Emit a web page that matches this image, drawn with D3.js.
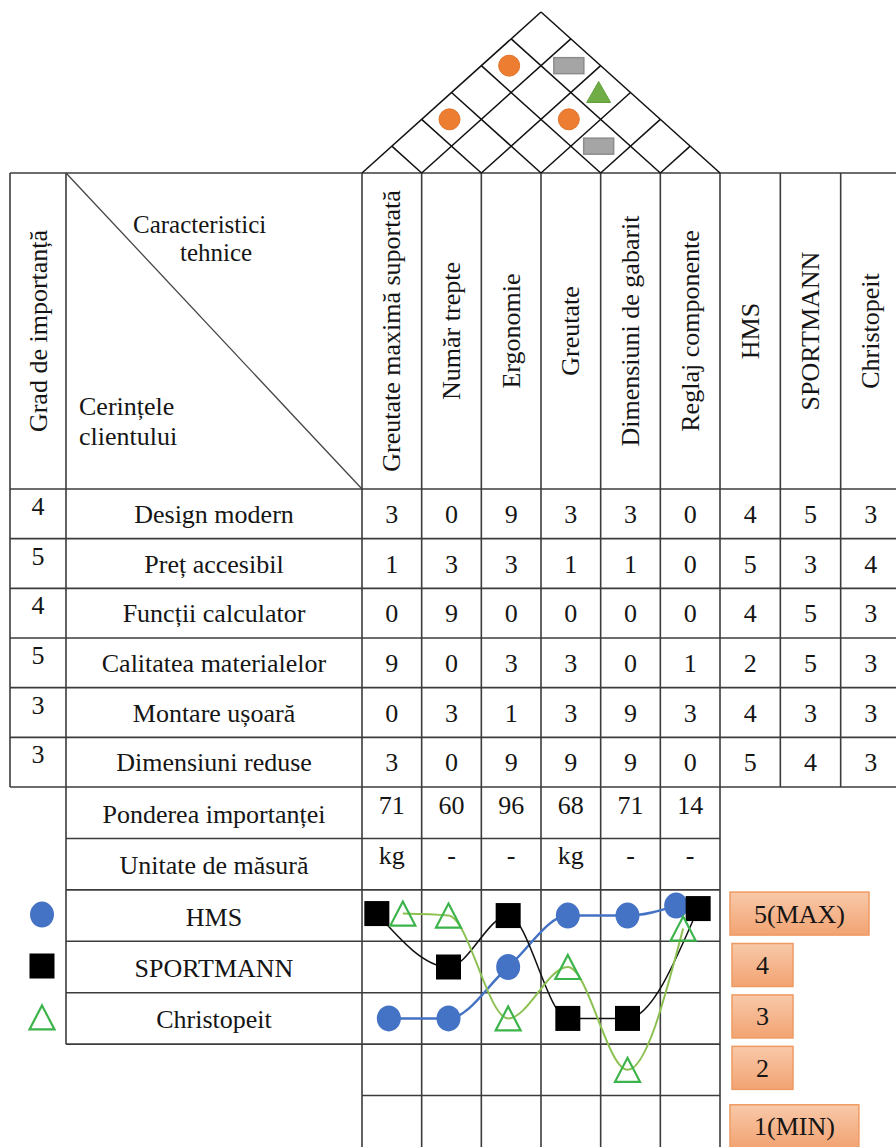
<!DOCTYPE html>
<html><head><meta charset="utf-8">
<script src="https://cdn.jsdelivr.net/npm/d3@7"></script>
<style>
body{margin:0;background:#fff}
svg text{font-family:"Liberation Serif","Times New Roman",serif;fill:#151515}
</style>
</head><body><svg id="c" width="896" height="1147"></svg>
<script>
// ---------------- DATA ----------------
const techChars = ["Greutate maximă suportată","Număr trepte","Ergonomie","Greutate","Dimensiuni de gabarit","Reglaj componente"];
const competitors = ["HMS","SPORTMANN","Christopeit"];
const requirements = ["Design modern","Preț accesibil","Funcții calculator","Calitatea materialelor","Montare ușoară","Dimensiuni reduse"];
const importance = [4,5,4,5,3,3];
const relationships = [
  [3,0,9,3,3,0],
  [1,3,3,1,1,0],
  [0,9,0,0,0,0],
  [9,0,3,3,0,1],
  [0,3,1,3,9,3],
  [3,0,9,9,9,0]
];
const customerRatings = [[4,5,3],[5,3,4],[4,5,3],[2,5,3],[4,3,3],[5,4,3]];
const weights = [71,60,96,68,71,14];
const units = ["kg","-","-","kg","-","-"];
const hmsScores = [3,3,4,5,5,5];
const sportmannScores = [5,4,5,3,3,5];
const christopeitScores = [5,5,3,4,2,5];
const levels = [5,4,3,2,1];
const levelLabels = ["5(MAX)","4","3","2","1(MIN)"];
const bottomRows = ["Ponderea importanței","Unitate de măsură","HMS","SPORTMANN","Christopeit","",""];
const roofCorrelations = [
  {a:0,b:2,type:"circle"},
  {a:2,b:4,type:"circle"},
  {a:0,b:4,type:"circle"},
  {a:1,b:5,type:"rect"},
  {a:2,b:5,type:"triangle"},
  {a:3,b:4,type:"rect"}
];

// ---------------- LAYOUT ----------------
const svg = d3.select("#c");
const FS = 26;
const LINE = "#3c3c3c", LW = 1.6;
const xL0 = 10, xL1 = 66, xT0 = 362, xT1 = 720, xC1 = 901;
const yTop = 173, yHead = 489, yData1 = 787, yEnd = 1147, roofApex = 12;

const xTech = d3.scaleBand().domain(d3.range(techChars.length)).range([xT0, xT1]);
const xComp = d3.scaleBand().domain(d3.range(competitors.length)).range([xT1, xC1]);
const yData = d3.scaleBand().domain(d3.range(requirements.length)).range([yHead, yData1]);
const yBot = d3.scaleBand().domain(d3.range(bottomRows.length)).range([yData1, yEnd]);
const yLevel = d3.scaleBand().domain(levels).range([yBot(2), yEnd]);
const bw = xTech.bandwidth();
const cx = i => xTech(i) + bw/2;

// gradient for level boxes
const defs = svg.append("defs");
const g1 = defs.append("linearGradient").attr("id","og").attr("x1",0).attr("y1",0).attr("x2",0).attr("y2",1);
g1.append("stop").attr("offset","0%").attr("stop-color","#f8c9a9");
g1.append("stop").attr("offset","55%").attr("stop-color","#f5b48b");
g1.append("stop").attr("offset","100%").attr("stop-color","#f2a372");

const grid = svg.append("g").attr("stroke",LINE).attr("stroke-width",LW).attr("fill","none");
function line(x1,y1,x2,y2,g=grid){ g.append("line").attr("x1",x1).attr("y1",y1).attr("x2",x2).attr("y2",y2); }

// ---------------- ROOF ----------------
const nT = techChars.length;
const stepY = (yTop - roofApex) / nT, hw = bw/2;
const roof = svg.append("g").attr("stroke","#111").attr("stroke-width",1.5);
for (let k = 0; k <= nT; k++) {
  const xk = xT0 + k*bw;
  line(xk, yTop, xk + (nT-k)*hw, yTop - (nT-k)*stepY, roof);
  line(xk, yTop, xk - k*hw, yTop - k*stepY, roof);
}
const roofSym = svg.append("g");
roofCorrelations.forEach(d => {
  const x = (cx(d.a) + cx(d.b))/2 - 2, y = yTop - (d.b - d.a)*stepY;
  if (d.type === "circle") roofSym.append("circle").attr("cx",x).attr("cy",y).attr("r",10.5).attr("fill","#ED7D31").attr("stroke","#e07228").attr("stroke-width",1);
  else if (d.type === "rect") roofSym.append("rect").attr("x",x-15).attr("y",y-8).attr("width",30).attr("height",16).attr("fill","#a5a5a5").attr("stroke","#8c8c8c").attr("stroke-width",1.5);
  else roofSym.append("path").attr("d",`M${x},${y-11}L${x+12},${y+10}L${x-12},${y+10}Z`).attr("fill","#70AD47").attr("stroke","#62a03c").attr("stroke-width",1);
});

// ---------------- GRID ----------------
line(xL0, yTop, xC1, yTop);
yData.domain().forEach(i => line(xL0, yData(i), xC1, yData(i)));
line(xL0, yData1, xC1, yData1);
for (let r = 1; r <= 5; r++) line(xL1, yBot(r), xT1, yBot(r));
line(xT0, yBot(6), xT1, yBot(6));
line(xL0, yTop, xL0, yData1);
line(xL1, yTop, xL1, yBot(5));
for (let k = 0; k <= nT; k++) line(xT0 + k*bw, yTop, xT0 + k*bw, yEnd);
for (let k = 1; k < competitors.length; k++) line(xComp(k), yTop, xComp(k), yData1);
svg.append("line").attr("x1",xL1).attr("y1",yTop).attr("x2",xT0).attr("y2",yHead).attr("stroke","#444").attr("stroke-width",1.3);

// ---------------- HEADER TEXT ----------------
const T = svg.append("g").attr("font-size",FS);
const headMid = (yTop + yHead)/2;
function vtext(x, s){
  T.append("text").attr("transform",`translate(${x},${headMid}) rotate(-90)`).attr("text-anchor","middle").attr("dy","0.33em").text(s);
}
vtext((xL0+xL1)/2, "Grad de importanță");
techChars.forEach((s,i) => vtext(cx(i), s));
competitors.forEach((s,i) => vtext(xComp(i)+xComp.bandwidth()/2, s));
T.append("text").attr("x",133).attr("y",233).attr("font-size",25).text("Caracteristici");
T.append("text").attr("x",180).attr("y",261).attr("font-size",25).text("tehnice");
T.append("text").attr("x",79).attr("y",415).text("Cerințele");
T.append("text").attr("x",79).attr("y",445).text("clientului");

// ---------------- DATA ROWS ----------------
requirements.forEach((s,i) => {
  const yc = yData(i) + yData.bandwidth()/2;
  T.append("text").attr("x",(xL0+xL1)/2).attr("y",yData(i)+26).attr("text-anchor","middle").text(importance[i]);
  T.append("text").attr("x",(xL1+xT0)/2).attr("y",yc+9).attr("text-anchor","middle").text(s);
  relationships[i].forEach((v,j) => T.append("text").attr("x",cx(j)).attr("y",yc+9).attr("text-anchor","middle").text(v));
  customerRatings[i].forEach((v,j) => T.append("text").attr("x",xComp(j)+xComp.bandwidth()/2).attr("y",yc+9).attr("text-anchor","middle").text(v));
});

// ---------------- BOTTOM ROWS ----------------
bottomRows.forEach((s,r) => {
  if (!s) return;
  T.append("text").attr("x",(xL1+xT0)/2).attr("y",yBot(r)+yBot.bandwidth()/2+10).attr("text-anchor","middle").text(s);
});
weights.forEach((v,j) => T.append("text").attr("x",cx(j)).attr("y",yBot(0)+27).attr("text-anchor","middle").text(v));
units.forEach((v,j) => T.append("text").attr("x",cx(j)).attr("y",yBot(1)+26).attr("text-anchor","middle").text(v));

// ---------------- BENCHMARK CHART ----------------
const series = [
  {name:"HMS", scores:hmsScores, shape:"circle", color:"#4472C4", line:"#4472C4", lw:2.5},
  {name:"SPORTMANN", scores:sportmannScores, shape:"square", color:"#000", line:"#111", lw:1.5},
  {name:"Christopeit", scores:christopeitScores, shape:"triangle", color:"#3cb44b", line:"#8cc152", lw:2}
];
// dodge offsets for markers sharing the same cell (style only)
const dodge = {
  1: [[-3,0]],
  2: [[-15,-2],[11,-2]],
  3: [[-14,-10],[8,-7],[-7,13]]
};
const pts = series.map(() => []);
techChars.forEach((_,j) => {
  const groups = d3.group(series.map((s,k) => ({k, v:s.scores[j]})), d => d.v);
  groups.forEach(arr => {
    arr.forEach((d,idx) => {
      const off = dodge[arr.length][idx];
      pts[d.k][j] = [cx(j) + off[0], yLevel(d.v) + yLevel.bandwidth()/2 + off[1]];
    });
  });
});
const lineGen = d3.line().curve(d3.curveMonotoneX);
const chart = svg.append("g");
series.forEach((s,k) => {
  chart.append("path").attr("d", lineGen(pts[k])).attr("fill","none").attr("stroke",s.line).attr("stroke-width",s.lw);
});
function marker(g, shape, color, x, y){
  if (shape === "circle") g.append("ellipse").attr("cx",x).attr("cy",y).attr("rx",12).attr("ry",13).attr("fill",color);
  else if (shape === "square") g.append("rect").attr("x",x-12.5).attr("y",y-12.5).attr("width",25).attr("height",25).attr("fill",color);
  else g.append("path").attr("d",`M${x},${y-12}L${x+12.5},${y+12}L${x-12.5},${y+12}Z`).attr("fill","none").attr("stroke",color).attr("stroke-width",2.2);
}
series.forEach((s,k) => pts[k].forEach(p => marker(chart, s.shape, s.color, p[0], p[1])));

// legend markers
series.forEach((s,k) => marker(svg, s.shape, s.color, 42, yBot(2+k) + yBot.bandwidth()/2 - 1));

// level boxes
const LB = svg.append("g");
levels.forEach((v,i) => {
  const yc = yLevel(v) + yLevel.bandwidth()/2 - 2 + (i===4 ? 7 : 0);
  const t = LB.append("text").attr("font-size",FS).attr("y",yc+9).text(levelLabels[i]);
  const tw = t.node().getComputedTextLength();
  const w = tw + 48, x0 = (i===0||i===4) ? 730 : 732;
  LB.insert("rect","text").attr("x",x0).attr("y",yc-21.5).attr("width",w).attr("height",43).attr("fill","url(#og)").attr("stroke","#ef9a62").attr("stroke-width",1.5);
  t.attr("x",x0 + w/2).attr("text-anchor","middle");
});
</script>
</body></html>
